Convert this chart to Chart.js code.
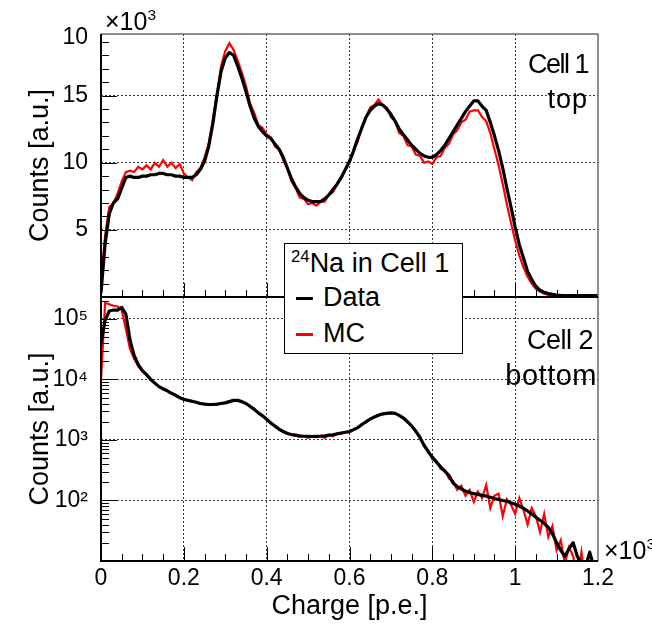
<!DOCTYPE html>
<html>
<head>
<meta charset="utf-8">
<script src="https://cdn.jsdelivr.net/npm/chart.js@4.4.0/dist/chart.umd.min.js"></script>
<style>
  body { margin: 0; background: #fff; }
  #wrap { position: relative; width: 652px; height: 631px; background: #fff;
          font-family: "Liberation Sans", Arial, sans-serif; color: #000; }
  canvas { position: absolute; left: 0; top: 0; }
  .txt { position: absolute; white-space: nowrap; line-height: 1; }
  #legend { position: absolute; left: 284px; top: 243px; width: 177px; height: 109px;
            border: 1px solid #000; background: #fff; }
  #legend .mark { position: absolute; left: 11px; width: 17px; height: 3px; }
  sup { font-size: 62%; vertical-align: 0; position: relative; top: -0.62em; }
</style>
</head>
<body>
<div id="wrap">
  <canvas id="topChart" width="652" height="631"></canvas>
  <canvas id="bottomChart" width="652" height="631"></canvas>

  <div class="txt" style="left:105px;top:9px;font-size:25px;">×10<sup>3</sup></div>
  <div class="txt" style="left:604px;top:538px;font-size:25px;">×10<sup>3</sup></div>

  <div class="txt" style="right:64px;top:51px;font-size:27px;letter-spacing:-1.5px;">Cell 1</div>
  <div class="txt" style="right:64px;top:86px;font-size:27px;letter-spacing:1px;">top</div>
  <div class="txt" style="right:59px;top:327px;font-size:27px;letter-spacing:-0.5px;">Cell 2</div>
  <div class="txt" style="right:55px;top:361px;font-size:29px;letter-spacing:0.5px;">bottom</div>

  <div id="legend">
    <div class="txt" style="left:6px;top:6px;font-size:27px;"><sup>24</sup>Na in Cell 1</div>
    <div class="mark" style="top:53px;background:#000;"></div>
    <div class="txt" style="left:38px;top:40px;font-size:27px;">Data</div>
    <div class="mark" style="top:89px;background:#f00;"></div>
    <div class="txt" style="left:38px;top:76px;font-size:27px;">MC</div>
  </div>
</div>

<script>
// histogram bins: charge in units of 10^3 p.e., 0.00 .. 1.20 in steps of 0.01
const binWidth = 0.01;
const nBins = 121;

// top panel (Cell 1), counts in units of 10^3
const topData = [
  0.3, 4.0, 6.2, 7.0, 7.3, 8.1, 8.9, 9.0, 8.9, 8.9,
  9.0, 9.0, 9.1, 9.1, 9.2, 9.2, 9.1, 9.1, 9.0, 9.0,
  8.9, 8.9, 8.9, 9.1, 9.5, 10.1, 11.2, 12.9, 15.0, 16.8,
  17.8, 18.2, 18.0, 17.2, 16.3, 15.3, 14.2, 13.3, 12.7, 12.3,
  12.0, 11.8, 11.4, 11.0, 10.4, 9.6, 8.8, 8.2, 7.7, 7.4,
  7.2, 7.1, 7.1, 7.1, 7.3, 7.6, 8.0, 8.4, 8.9, 9.5,
  10.1, 10.9, 11.8, 12.6, 13.4, 13.9, 14.2, 14.4, 14.3, 14.0,
  13.6, 13.1, 12.5, 12.1, 11.7, 11.3, 11.0, 10.7, 10.5, 10.4,
  10.4, 10.6, 10.9, 11.3, 11.8, 12.3, 12.8, 13.3, 13.8, 14.2,
  14.6, 14.6, 14.2, 13.9, 13.0, 12.0, 10.9, 9.6, 8.1, 6.7,
  5.2, 3.9, 2.9, 1.9, 1.3, 0.8, 0.5, 0.35, 0.25, 0.2,
  0.15, 0.12, 0.1, 0.1, 0.1, 0.1, 0.1, 0.1, 0.1, 0.1,
  0.1
];
const topMC = [
  1.0, 4.6, 6.7, 7.0, 7.7, 8.6, 9.3, 9.4, 9.3, 9.7,
  9.5, 9.8, 9.5, 10.0, 9.7, 10.2, 9.7, 10.0, 9.6, 9.9,
  9.2, 8.9, 8.7, 9.3, 9.6, 10.4, 11.4, 13.2, 15.1, 17.2,
  18.3, 18.9, 18.4, 17.6, 16.7, 15.7, 14.4, 13.7, 12.8, 12.6,
  12.1, 11.9, 11.2, 11.0, 10.2, 9.6, 8.6, 8.1, 7.4, 7.3,
  6.9, 7.0, 6.8, 7.1, 7.1, 7.6, 7.8, 8.4, 8.8, 9.5,
  10.0, 10.9, 11.6, 12.7, 13.4, 14.1, 14.3, 14.7, 14.3, 14.1,
  13.4, 13.1, 12.2, 12.0, 11.3, 11.2, 10.6, 10.5, 10.0, 10.1,
  9.9, 10.4, 10.5, 11.1, 11.4, 12.1, 12.4, 13.0, 13.2, 13.8,
  13.9, 13.9, 13.4, 13.1, 12.2, 11.0, 9.8, 8.4, 6.9, 5.5,
  4.2, 3.1, 2.2, 1.5, 1.0, 0.6, 0.4, 0.25, 0.15, 0.1,
  0.05, 0.05, 0.05, 0.05, 0.05, 0.05, 0.05, 0.05, 0.05, 0.05,
  0.05
];

// bottom panel (Cell 2), counts
const bottomData = [
  40000, 95000, 135000, 140000, 140000, 155000, 120000, 45000, 25000, 17500,
  14000, 12000, 10000, 8700, 7600, 7000, 6500, 5900, 5500, 5000,
  4700, 4500, 4350, 4200, 4000, 3900, 3850, 3850, 3900, 4000,
  4100, 4300, 4500, 4500, 4300, 4000, 3600, 3200, 2800, 2500,
  2200, 1900, 1700, 1500, 1380, 1280, 1230, 1200, 1170, 1150,
  1150, 1140, 1150, 1150, 1170, 1200, 1220, 1260, 1300, 1340,
  1380, 1480, 1600, 1800, 2000, 2200, 2400, 2550, 2700, 2750,
  2800, 2750, 2550, 2300, 2000, 1700, 1400, 1100, 820, 640,
  520, 430, 360, 305, 260, 195, 170, 155, 143, 135,
  130, 126, 122, 118, 113, 108, 104, 100, 97, 92,
  87, 81, 74, 67, 60, 53, 47, 42, 36, 28,
  20, 15, 12, 16, 20, 12, 9, 8, 14, 8,
  8
];
const bottomMC = [
  10000, 185000, 175000, 165000, 160000, 140000, 68000, 32000, 22000, 16500,
  13500, 11800, 9700, 8600, 7700, 6800, 6400, 6000, 5300, 5000,
  4600, 4550, 4250, 4200, 3950, 3950, 3750, 3900, 3850, 4050,
  4100, 4400, 4450, 4600, 4250, 4050, 3500, 3250, 2750, 2550,
  2150, 1950, 1650, 1520, 1350, 1300, 1200, 1180, 1120, 1160,
  1080, 1150, 1100, 1170, 1080, 1210, 1150, 1270, 1260, 1360,
  1350, 1500, 1580, 1830, 1980, 2250, 2350, 2600, 2650, 2800,
  2750, 2800, 2500, 2350, 1950, 1750, 1350, 1150, 780, 680,
  480, 450, 330, 320, 230, 210, 150, 175, 120, 150,
  95, 140, 110, 180, 75, 120, 130, 55, 105, 85,
  60, 110, 70, 40, 75, 55, 30, 60, 25, 38,
  15, 22, 9, 17, 12, 5, 14, 4, 4, 4,
  4
];

// axis ticks
const xTicks = [0, 0.2, 0.4, 0.6, 0.8, 1.0, 1.2];
const xTickLabels = ['0', '0.2', '0.4', '0.6', '0.8', '1', '1.2'];
const topYTicks = [5, 10, 15, 19.3];
const topYTickLabels = ['5', '10', '15', '10'];
const bottomYTicks = [100, 1000, 10000, 100000];
const bottomYTickLabels = ['10²', '10³', '10⁴', '10⁵'];

const charge = Array.from({ length: nBins }, (_, i) => +(i * binWidth).toFixed(2));
const pts = arr => arr.map((v, i) => ({ x: charge[i], y: v }));

const FONT = '"Liberation Sans", Arial, sans-serif';
const GRID = '#3a3a3a';

// inward tick marks and the frame, ROOT style
const frameTicks = {
  id: 'frameTicks',
  afterDraw(chart, args, opts) {
    const { ctx, chartArea: a, scales: { x, y } } = chart;
    ctx.save();
    ctx.strokeStyle = '#000';
    ctx.lineWidth = 1;
    ctx.beginPath();
    for (let i = 1; i < 24; i++) {
      const px = Math.round(x.getPixelForValue(i * 0.05)) + 0.5;
      const len = i % 4 === 0 ? 14 : 7;
      ctx.moveTo(px, a.bottom);
      ctx.lineTo(px, a.bottom - len);
    }
    opts.minor.forEach(v => {
      const py = Math.round(y.getPixelForValue(v)) + 0.5;
      if (py < a.top || py > a.bottom) return;
      ctx.moveTo(a.left, py);
      ctx.lineTo(a.left + 8, py);
    });
    opts.major.forEach(v => {
      const py = Math.round(y.getPixelForValue(v)) + 0.5;
      ctx.moveTo(a.left, py);
      ctx.lineTo(a.left + 16, py);
    });
    ctx.stroke();

    ctx.strokeStyle = '#6a6a6a';
    ctx.lineWidth = 1.5;
    ctx.beginPath();
    if (opts.topEdge) {
      ctx.moveTo(a.left, a.top);
      ctx.lineTo(a.right, a.top);
    } else {
      ctx.moveTo(a.right, a.top);
    }
    ctx.lineTo(a.right, a.bottom);
    ctx.stroke();

    ctx.strokeStyle = '#000';
    ctx.lineWidth = 2;
    ctx.beginPath();
    ctx.moveTo(a.left, a.top);
    ctx.lineTo(a.left, a.bottom);
    ctx.lineTo(a.right, a.bottom);
    if (!opts.topEdge) {
      ctx.moveTo(a.left, a.top);
      ctx.lineTo(a.right, a.top);
    }
    ctx.stroke();
    ctx.restore();
  }
};

function datasets(data, mc) {
  return [
    { label: 'Data', data: pts(data), borderColor: '#000', borderWidth: 3.2,
      tension: 0, pointRadius: 0, order: 0, borderJoinStyle: 'round' },
    { label: 'MC', data: pts(mc), borderColor: '#ff0000', borderWidth: 2.2,
      tension: 0, pointRadius: 0, order: 1 }
  ];
}

function xScale(showLabels) {
  return {
    type: 'linear', min: 0, max: 1.2,
    afterBuildTicks: s => { s.ticks = xTicks.map(v => ({ value: v })); },
    afterFit: s => { s.height = showLabels ? 70 : 0; },
    ticks: {
      display: showLabels, autoSkip: false, maxRotation: 0, padding: 4,
      color: '#000', font: { family: FONT, size: 23 },
      callback: v => xTickLabels[xTicks.indexOf(v)]
    },
    grid: {
      drawTicks: false, lineWidth: 1,
      color: c => (c.tick && (c.tick.value <= 0 || c.tick.value >= 1.2)) ? 'transparent' : GRID
    },
    border: { display: false, dash: [2, 2] },
    title: {
      display: showLabels, text: 'Charge [p.e.]', color: '#000',
      font: { family: FONT, size: 27 }, padding: { top: 0, bottom: 8 }
    }
  };
}

function yTitle() {
  return {
    display: true, text: 'Counts [a.u.]', color: '#000',
    font: { family: FONT, size: 27 }, padding: { top: 24, bottom: 0 }
  };
}

new Chart(document.getElementById('topChart'), {
  type: 'line',
  data: { datasets: datasets(topData, topMC) },
  options: {
    responsive: false, animation: false, events: [],
    layout: { padding: { top: 34, right: 54, bottom: 334, left: 0 } },
    plugins: {
      legend: { display: false }, tooltip: { enabled: false },
      frameTicks: {
        topEdge: true,
        major: [5, 10, 15],
        minor: [1, 2, 3, 4, 6, 7, 8, 9, 11, 12, 13, 14, 16, 17, 18, 19]
      }
    },
    scales: {
      x: xScale(false),
      y: {
        type: 'linear', min: 0, max: 19.58,
        afterBuildTicks: s => { s.ticks = topYTicks.map(v => ({ value: v })); },
        afterFit: s => { s.width = 101; },
        ticks: {
          autoSkip: false, padding: 13, color: '#000',
          font: { family: FONT, size: 23 },
          callback: v => topYTickLabels[topYTicks.indexOf(v)]
        },
        grid: {
          drawTicks: false, lineWidth: 1,
          color: c => (c.tick && c.tick.value > 19) ? 'transparent' : GRID
        },
        border: { display: false, dash: [2, 2] },
        title: yTitle()
      }
    }
  },
  plugins: [frameTicks]
});

const logMinor = [];
[10, 100, 1000, 10000, 100000].forEach(d => {
  for (let k = 2; k <= 9; k++) logMinor.push(k * d);
});

new Chart(document.getElementById('bottomChart'), {
  type: 'line',
  data: { datasets: datasets(bottomData, bottomMC) },
  options: {
    responsive: false, animation: false, events: [],
    layout: { padding: { top: 297, right: 54, bottom: 0, left: 0 } },
    plugins: {
      legend: { display: false }, tooltip: { enabled: false },
      frameTicks: { topEdge: false, major: bottomYTicks, minor: logMinor }
    },
    scales: {
      x: xScale(true),
      y: {
        type: 'logarithmic', min: 10, max: 230000,
        afterBuildTicks: s => { s.ticks = bottomYTicks.map(v => ({ value: v })); },
        afterFit: s => { s.width = 101; },
        ticks: {
          autoSkip: false, padding: 13, color: '#000',
          font: { family: FONT, size: 23 },
          callback: v => bottomYTickLabels[bottomYTicks.indexOf(v)]
        },
        grid: { drawTicks: false, lineWidth: 1, color: GRID },
        border: { display: false, dash: [2, 2] },
        title: yTitle()
      }
    }
  },
  plugins: [frameTicks]
});
</script>
</body>
</html>
